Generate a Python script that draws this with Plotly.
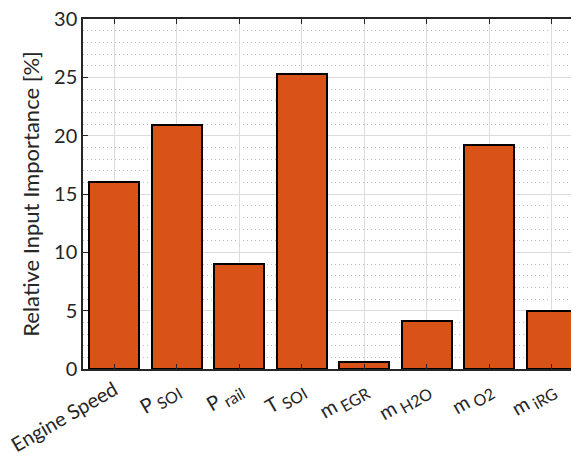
import plotly.graph_objects as go

def sub(main, s):
    return f"{main}<sub><span style='font-size:16px'> {s}</span></sub>"

categories = ["Engine Speed", sub("P", "SOI"), sub("P", "rail"), sub("T", "SOI"),
              sub("m", "EGR"), sub("m", "H2O"), sub("m", "O2"), sub("m", "iRG")]
importance = [16.0, 20.9, 9.0, 25.3, 0.6, 4.1, 19.2, 4.95]
positions = list(range(1, len(categories) + 1))

font_family = "Lato, Open Sans, sans-serif"

fig = go.Figure()
fig.add_trace(go.Bar(
    x=positions, y=importance, width=0.8,
    marker=dict(color="#D95319", line=dict(color="black", width=2)),
))

fig.update_layout(
    width=579, height=460,
    margin=dict(l=75, r=4, t=11, b=99, autoexpand=False),
    plot_bgcolor="white", paper_bgcolor="white",
    showlegend=False,
    font=dict(family=font_family, size=19, color="#262626"),
    bargap=0,
)
fig.update_xaxes(
    range=[0.5, 8.5], tickmode="array", tickvals=positions, ticktext=categories,
    tickangle=-30, ticks="inside", ticklen=5, tickcolor="#262626",
    showline=True, linecolor="#262626", linewidth=1.5, mirror="ticks",
    showgrid=True, gridcolor="#DCDCDC", gridwidth=1,
    tickfont=dict(size=20), zeroline=False, automargin=False,
    ticklabeloverflow="allow",
)
fig.update_yaxes(
    range=[0, 30], tickmode="array", tickvals=[0, 5, 10, 15, 20, 25, 30],
    ticks="inside", ticklen=5, tickcolor="#262626",
    showline=True, linecolor="#262626", linewidth=1.5, mirror="ticks",
    showgrid=True, gridcolor="#DCDCDC", gridwidth=1,
    minor=dict(dtick=1, showgrid=True, gridcolor="#BDBDBD", griddash="1px,3px", gridwidth=1),
    title=dict(text="Relative Input Importance [%]", font=dict(size=22), standoff=8),
    tickfont=dict(size=20), zeroline=False, automargin=False,
    ticklabeloverflow="allow",
)

fig.write_html("out.html")
